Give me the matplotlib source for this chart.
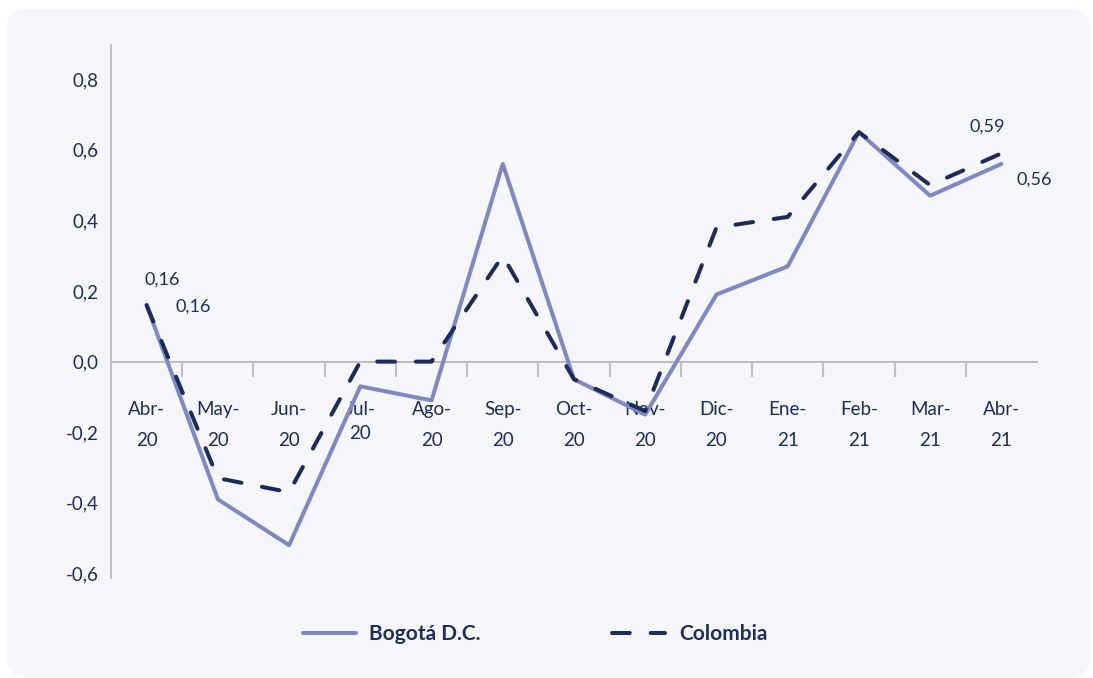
import matplotlib.pyplot as plt
from matplotlib.patches import FancyBboxPatch

# Monthly variation, Bogotá vs Colombia
months = ["Abr-\n20", "May-\n20", "Jun-\n20", "Jul-\n20", "Ago-\n20", "Sep-\n20",
          "Oct-\n20", "Nov-\n20", "Dic-\n20", "Ene-\n21", "Feb-\n21", "Mar-\n21",
          "Abr-\n21"]
bogota = [0.16, -0.39, -0.52, -0.07, -0.11, 0.56, -0.05, -0.15, 0.19, 0.27, 0.65, 0.47, 0.56]
colombia = [0.16, -0.33, -0.37, 0.00, 0.00, 0.30, -0.05, -0.14, 0.38, 0.41, 0.65, 0.50, 0.59]
y_ticks = [-0.6, -0.4, -0.2, 0.0, 0.2, 0.4, 0.6, 0.8]

NAVY = "#1c2b59"
LAVENDER = "#7f88c2"
TEXT = "#1f2d5c"
GRID = "#bdbdc2"
PANEL = "#f5f6fa"

plt.rcParams['font.family'] = ['Lato', 'DejaVu Sans']

fig = plt.figure(figsize=(10.93, 6.78), dpi=100)
fig.patch.set_facecolor("white")
fig.patches.append(FancyBboxPatch((7 / 1093, 1 / 678), 1083 / 1093, 668 / 678,
                                  boxstyle="round,pad=0,rounding_size=0.018",
                                  transform=fig.transFigure, facecolor=PANEL,
                                  edgecolor="none", zorder=-5,
                                  mutation_aspect=1093 / 678))

ax = fig.add_axes([111 / 1093, 100 / 678, 926 / 1093, 533 / 678])
ax.set_facecolor("none")

x = list(range(len(months)))
ax.plot(x, bogota, color=LAVENDER, lw=2.9, solid_joinstyle="round",
        solid_capstyle="round", label="Bogotá D.C.", zorder=3)
ax.plot(x, colombia, color=NAVY, lw=2.9, linestyle=(0, (4.4, 5.2)),
        dash_capstyle="round", dash_joinstyle="round", label="Colombia", zorder=4)

ax.set_xlim(-0.5, len(months) - 0.5)
ax.set_ylim(-0.613, 0.897)

for s in ["top", "right"]:
    ax.spines[s].set_visible(False)
ax.spines["left"].set_color(GRID)
ax.spines["left"].set_linewidth(1.3)
ax.spines["bottom"].set_position(("data", 0))
ax.spines["bottom"].set_color(GRID)
ax.spines["bottom"].set_linewidth(1.5)

ax.set_yticks(y_ticks)
ax.set_yticklabels([f"{v:.1f}".replace(".", ",") for v in y_ticks])
ax.tick_params(axis="y", length=0, pad=9, labelsize=13.5, labelcolor=TEXT)

ax.set_xticks(x)
ax.set_xticklabels(months, linespacing=2.05)
ax.tick_params(axis="x", which="major", length=0, pad=28, labelsize=13.5,
               labelcolor=TEXT)
ax.set_xticks([i + 0.5 for i in x[:-1]], minor=True)
ax.tick_params(axis="x", which="minor", length=11, width=1.5, color=GRID,
               direction="out")
ax.get_xticklabels()[3].set_linespacing(1.55)

# value labels at both ends
ax.annotate("0,16", (x[0], colombia[0]), xytext=(16, 26), textcoords="offset pixels",
            ha="center", va="center", fontsize=13, color=TEXT)
ax.annotate("0,16", (x[0], bogota[0]), xytext=(47, -1), textcoords="offset pixels",
            ha="center", va="center", fontsize=13, color=TEXT)
ax.annotate("0,59", (x[-1], colombia[-1]), xytext=(-14, 27), textcoords="offset pixels",
            ha="center", va="center", fontsize=13, color=TEXT)
ax.annotate("0,56", (x[-1], bogota[-1]), xytext=(33, -16), textcoords="offset pixels",
            ha="center", va="center", fontsize=13, color=TEXT)

fig.legend(loc="center", bbox_to_anchor=(535 / 1093, 1 - 634 / 678), ncol=2,
           frameon=False, handlelength=2.55, handletextpad=0.65,
           columnspacing=6.3, prop={"weight": "bold", "size": 15},
           labelcolor=TEXT)

fig.savefig("out.png", dpi=100, facecolor=fig.get_facecolor())
